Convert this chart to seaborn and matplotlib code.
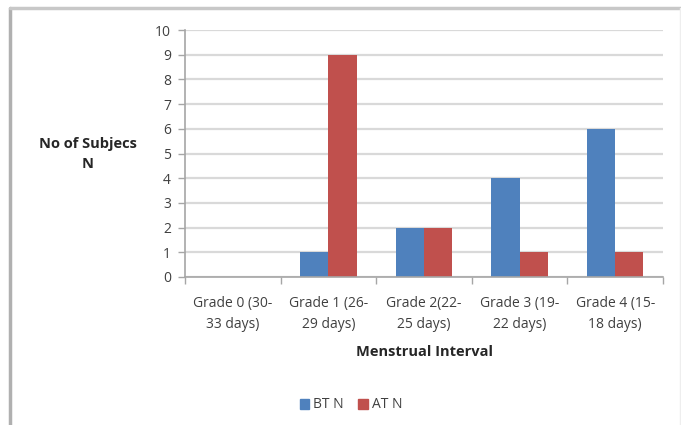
import matplotlib
matplotlib.use("Agg")
import matplotlib.pyplot as plt
from matplotlib.patches import Rectangle
import seaborn as sns
import pandas as pd

categories = [
    "Grade 0 (30-\n33 days)",
    "Grade 1 (26-\n29 days)",
    "Grade 2(22-\n25 days)",
    "Grade 3 (19-\n22 days)",
    "Grade 4 (15-\n18 days)",
]
bt_n = [0, 1, 2, 4, 6]
at_n = [0, 9, 2, 1, 1]
series_names = ["BT N", "AT N"]
y_ticks = list(range(0, 11))

df = pd.DataFrame({
    "interval": categories * 2,
    "count": bt_n + at_n,
    "series": [series_names[0]] * len(categories) + [series_names[1]] * len(categories),
})

sns.set_style("white")
plt.rcParams["font.family"] = ["Open Sans", "DejaVu Sans"]

fig = plt.figure(figsize=(6.81, 4.25), dpi=100)
ax = fig.add_axes([185 / 681, 1 - 277 / 425, (663 - 185) / 681, (277 - 30) / 425])

sns.barplot(data=df, x="interval", y="count", hue="series",
            palette=["#4F81BD", "#C0504D"], width=0.59, saturation=1,
            ax=ax, legend=False, linewidth=0)

ax.set_ylim(0, 10)
ax.set_xlim(-0.5, len(categories) - 0.5)
ax.set_yticks(y_ticks)
ax.set_yticklabels([str(v) for v in y_ticks])
ax.yaxis.grid(True, color="#D9D9D9", linewidth=1.6)
ax.set_axisbelow(True)

for side in ("top", "right"):
    ax.spines[side].set_visible(False)
for side in ("left", "bottom"):
    ax.spines[side].set_color("#A6A6A6")
    ax.spines[side].set_linewidth(1.2)

ax.tick_params(axis="y", length=5, width=1, color="#A6A6A6", labelsize=10,
               labelcolor="#404040", pad=5, left=True)
ax.tick_params(axis="x", which="major", length=0, labelsize=10,
               labelcolor="#404040", pad=14)
for lbl in ax.get_xticklabels():
    lbl.set_linespacing(1.55)
ax.set_xticks([i - 0.5 for i in range(len(categories) + 1)], minor=True)
ax.tick_params(axis="x", which="minor", length=5, width=1, color="#A6A6A6", bottom=True)

ax.set_xlabel("Menstrual Interval", fontsize=10.5, fontweight="bold", color="#262626", labelpad=9)
ax.set_ylabel("")
fig.text(88 / 681, 1 - 154 / 425, "No of Subjecs\nN", ha="center", va="center",
         fontsize=10.5, fontweight="bold", color="#262626", linespacing=1.6)

# legend below the axis title
handles = [Rectangle((0, 0), 1, 1, color=c) for c in ["#4F81BD", "#C0504D"]]
fig.legend(handles, series_names, loc="center", bbox_to_anchor=(351 / 681, 1 - 405 / 425),
           ncol=2, frameon=False, fontsize=10, handlelength=0.7, handleheight=0.7,
           handletextpad=0.3, columnspacing=1.0, labelcolor="#404040")

# chart frame
fig.add_artist(plt.Line2D([10 / 681, 10 / 681], [0, 1 - 8 / 425], transform=fig.transFigure,
                          color="#B0B0B0", linewidth=2.5))
fig.add_artist(plt.Line2D([10 / 681, 1], [1 - 8 / 425, 1 - 8 / 425], transform=fig.transFigure,
                          color="#C8C8C8", linewidth=2.5))
fig.add_artist(plt.Line2D([679.5 / 681, 679.5 / 681], [0, 1 - 8 / 425], transform=fig.transFigure,
                          color="#EEEEEE", linewidth=1))

fig.savefig("out.png", dpi=100)
